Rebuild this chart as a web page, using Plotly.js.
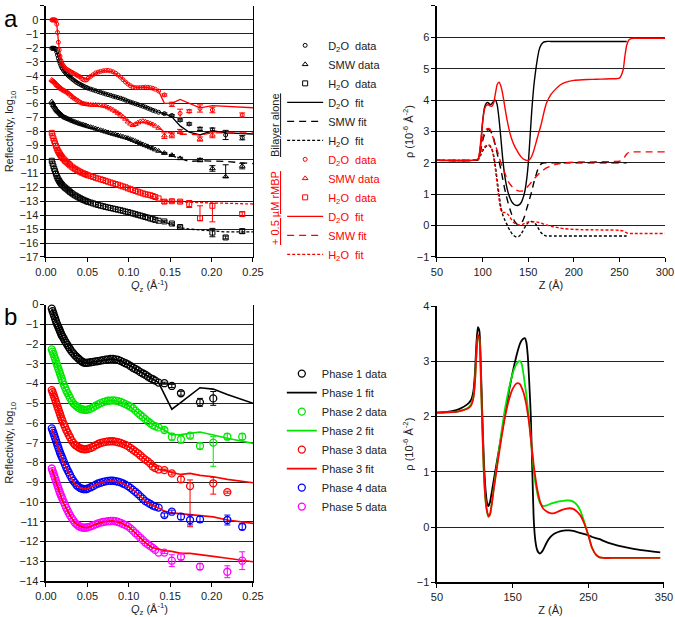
<!DOCTYPE html>
<html><head><meta charset="utf-8">
<script src="https://cdn.plot.ly/plotly-3.0.1.min.js"></script>
<style>html,body{margin:0;padding:0;background:#fff}#chart{width:675px;height:617px}</style>
</head><body><div id="chart"></div>
<script>
// ---------- Panel a (left): reflectivity ----------
const qDense = [0.007,0.008,0.009,0.010,0.011,0.012,0.013,0.014,0.015,0.016,0.017,0.018,0.019,0.020,
  0.0215,0.023,0.0245,0.026,0.0275,0.029,
  0.031,0.033,0.035,0.037,0.039,0.041,0.043,0.045,0.047,0.049,0.051,
  0.054,0.057,0.060,0.063,0.066,0.069,0.072,0.075,0.078,0.081,0.084,0.087,0.090,0.093,0.096,0.099,0.102,0.105,0.108,0.111,0.114,0.117,0.120,0.123,0.126,0.129,0.132,
  0.136];
const qTailA = [0.143,0.152,0.162,0.173,0.186,0.201,0.217,0.237];
const qFitA = [0.007,0.010,0.013,0.016,0.020,0.025,0.030,0.040,0.050,0.060,0.070,0.080,0.090,0.100,0.110,0.120,0.130,0.136,0.143,0.152,0.162,0.173,0.186,0.201,0.217,0.237,0.250];

const bD2O = [-2.03,-2.03,-2.03,-2.04,-2.05,-2.12,-2.3,-2.52,-2.75,-2.93,-3.1,-3.26,-3.4,-3.5,
  -3.64,-3.75,-3.85,-3.93,-4.02,-4.1,
  -4.2,-4.3,-4.39,-4.48,-4.55,-4.61,-4.68,-4.74,-4.8,-4.85,-4.9,
  -4.96,-5.02,-5.08,-5.14,-5.2,-5.25,-5.31,-5.36,-5.41,-5.47,-5.52,-5.57,-5.62,-5.68,-5.75,-5.83,-5.89,-5.95,-6.01,-6.07,-6.13,-6.19,-6.25,-6.33,-6.4,-6.48,-6.54,
  -6.62];
const bSMW = [-5.86,-6.0,-6.12,-6.22,-6.3,-6.39,-6.47,-6.54,-6.6,-6.66,-6.72,-6.78,-6.83,-6.88,
  -6.94,-7.0,-7.04,-7.08,-7.12,-7.16,
  -7.22,-7.27,-7.31,-7.36,-7.4,-7.45,-7.49,-7.52,-7.56,-7.6,-7.64,
  -7.69,-7.74,-7.8,-7.85,-7.91,-7.96,-8.02,-8.07,-8.12,-8.18,-8.23,-8.28,-8.33,-8.38,-8.43,-8.48,-8.55,-8.62,-8.69,-8.77,-8.85,-8.93,-9.0,-9.07,-9.15,-9.22,-9.3,
  -9.4];
const bH2O = [-10.1,-10.3,-10.5,-10.68,-10.85,-11.03,-11.2,-11.33,-11.45,-11.55,-11.65,-11.73,-11.8,-11.86,
  -11.95,-12.03,-12.1,-12.17,-12.25,-12.33,
  -12.42,-12.51,-12.58,-12.65,-12.72,-12.78,-12.85,-12.9,-12.95,-13.0,-13.05,
  -13.1,-13.16,-13.22,-13.27,-13.32,-13.36,-13.41,-13.45,-13.49,-13.53,-13.57,-13.61,-13.65,-13.69,-13.74,-13.78,-13.83,-13.88,-13.93,-13.98,-14.03,-14.08,-14.13,-14.18,-14.24,-14.29,-14.34,
  -14.4];
const mD2O = [0,0,0,0,0,-0.05,-0.3,-0.9,-1.6,-2.15,-2.6,-2.9,-3.1,-3.2,
  -3.33,-3.45,-3.52,-3.58,-3.63,-3.68,
  -3.75,-3.82,-3.88,-3.95,-4.02,-4.08,-4.2,-4.28,-4.32,-4.3,-4.18,
  -4.05,-3.93,-3.8,-3.74,-3.69,-3.65,-3.63,-3.62,-3.66,-3.72,-3.82,-3.95,-4.1,-4.28,-4.45,-4.6,-4.72,-4.82,-4.85,-4.86,-4.85,-4.84,-4.82,-4.83,-4.86,-4.9,-4.97,
  -5.1];
const mSMW = [-4.3,-4.35,-4.4,-4.45,-4.5,-4.57,-4.65,-4.7,-4.75,-4.8,-4.85,-4.9,-4.95,-4.99,
  -5.05,-5.1,-5.15,-5.2,-5.27,-5.35,
  -5.45,-5.55,-5.64,-5.72,-5.8,-5.88,-5.95,-6.0,-6.03,-6.05,-6.07,
  -6.09,-6.1,-6.1,-6.11,-6.13,-6.16,-6.2,-6.28,-6.36,-6.45,-6.56,-6.68,-6.8,-6.95,-7.1,-7.3,-7.45,-7.55,-7.48,-7.37,-7.28,-7.25,-7.3,-7.36,-7.42,-7.5,-7.6,
  -7.75];
const mH2O = [-8.1,-8.3,-8.5,-8.68,-8.85,-9.03,-9.2,-9.33,-9.45,-9.55,-9.65,-9.74,-9.82,-9.9,
  -10.0,-10.1,-10.17,-10.25,-10.33,-10.42,
  -10.52,-10.6,-10.68,-10.75,-10.82,-10.89,-10.95,-11.0,-11.05,-11.1,-11.15,
  -11.2,-11.26,-11.32,-11.38,-11.43,-11.48,-11.54,-11.6,-11.66,-11.72,-11.77,-11.82,-11.88,-11.94,-12.0,-12.08,-12.14,-12.2,-12.26,-12.32,-12.38,-12.44,-12.5,-12.53,-12.57,-12.63,-12.7,
  -12.8];

const bD2OTail = [-6.72,-6.85,-7.18,-7.46,-7.82,-7.87,-8.25,-8.45];
const bD2OErr  = [0.05,0.05,0.08,0.08,0.12,0.12,0.33,0.15];
const bSMWTail = [-9.55,-9.7,-9.93,null,-10.05,-10.65,-11.24,-10.48];
const bSMWErrP = [0.05,0.05,0.08,0,0.12,0.2,0.85,0.2];
const bSMWErrM = [0.05,0.05,0.08,0,0.12,0.2,0.05,0.2];
const bH2OTail = [-14.45,-14.6,-14.85,null,null,-15.25,-15.6,-15.15];
const bH2OErr  = [0.05,0.05,0.08,0,0,0.3,0.1,0.15];
const mD2OTail = [-5.38,-6.05,-6.7,-6.55,-6.35,-6.46,null,-6.82];
const mD2OErr  = [0.08,0.15,0.3,0.1,0.26,0.2,0,0.15];
const mSMWTail = [-8.3,-8.25,-8.0,null,-8.54,-8.25,null,null];
const mSMWErr  = [0.2,0.2,0.15,0,0.15,0.2,0,0];
const mH2OTail = [-13.03,-13.0,-13.03,-13.2,-14.23,-13.33,null,-13.92];
const mH2OErrP = [0.12,0.1,0.1,0.25,0.9,0.17,0,0.15];
const mH2OErrM = [0.12,0.1,0.1,0.25,0.15,1.15,0,0.15];

const bD2OFit = [-2.03,-2.04,-2.3,-2.9,-3.5,-3.88,-4.12,-4.58,-4.88,-5.08,-5.27,-5.45,-5.62,-5.85,-6.05,-6.25,-6.5,-6.62,-6.72,-6.95,-7.6,-8.05,-8.25,-7.95,-8.1,-8.15,-8.18];
const bSMWFit = [-5.86,-6.2,-6.47,-6.65,-6.88,-7.06,-7.2,-7.44,-7.62,-7.8,-7.98,-8.16,-8.33,-8.5,-8.74,-9.0,-9.25,-9.4,-9.58,-9.75,-9.95,-10.15,-10.1,-10.12,-10.15,-10.25,-10.3];
const bH2OFit = [-10.1,-10.7,-11.2,-11.55,-11.92,-12.12,-12.38,-12.75,-13.03,-13.22,-13.38,-13.52,-13.65,-13.8,-13.96,-14.13,-14.3,-14.4,-14.5,-14.7,-14.9,-15.0,-15.05,-15.15,-15.2,-15.2,-15.2];
const mD2OFit = [0,0,-0.3,-2.1,-3.2,-3.55,-3.72,-4.05,-4.25,-3.8,-3.64,-3.7,-4.1,-4.65,-4.85,-4.82,-4.92,-5.1,-5.98,-5.98,-5.7,-5.98,-6.3,-6.15,-6.2,-6.3,-6.3];
const mSMWFit = [-4.3,-4.45,-4.65,-4.8,-5.0,-5.17,-5.4,-5.85,-6.06,-6.1,-6.17,-6.42,-6.8,-7.3,-7.4,-7.3,-7.52,-7.75,-8.0,-8.15,-8.2,-8.2,-8.25,-8.1,-8.1,-8.1,-8.1];
const mH2OFit = [-8.1,-8.7,-9.2,-9.55,-9.97,-10.2,-10.45,-10.85,-11.13,-11.32,-11.5,-11.7,-11.88,-12.1,-12.3,-12.5,-12.65,-12.8,-12.95,-13.0,-13.05,-13.08,-13.1,-13.12,-13.15,-13.18,-13.2];

// ---------- Panel a (right): SLD profiles ----------
const zA = [50,90,95,98,100,102,104,106,108,110,112,114,116,118,120,122,124,126,128,130,132,134,136,138,140,142,144,146,148,150,152,154,156,158,160,162,164,166,168,170,175,180,185,190,200,210,220,230,240,250,254,256,258,260,262,265,270,300];
const rhoBD2O = [2.08,2.08,2.1,2.6, 3.3,3.75,3.9,3.92,3.86,3.88,3.96,4.0,3.85,3.4,2.8,2.15,1.65,1.3,1.05,0.88,0.76,0.69,0.65,0.64,0.66,0.72,0.85,1.05,1.4,1.95,2.8,3.7,4.4,4.9,5.3,5.6,5.75,5.83,5.86,5.87, 5.87,5.87,5.87,5.87,5.87,5.87,5.87,5.87,5.87,5.87, 5.87,5.87,5.87, null,null,null,null,null];
const rhoBSMW = [2.08,2.08,2.1,2.4, 2.7,2.9,3.02,3.06,3.03,2.95,2.8,2.55,2.3,2.05,1.8,1.5,1.2,0.95,0.72,0.52,0.35,0.2,0.1,0.04,0.03,0.06,0.15,0.3,0.5,0.7,0.9,1.1,1.35,1.55,1.75,1.88,1.96,1.99,2.0,2.0, 2.0,2.0,2.0,2.0,2.0,2.0,2.0,2.0,2.0,2.0, 2.0,2.0,2.0, null,null,null,null,null];
const rhoBH2O = [2.08,2.08,2.1,2.25, 2.38,2.47,2.53,2.56,2.54,2.45,2.25,1.9,1.45,1.0,0.6,0.35,0.2,0.08,-0.05,-0.15,-0.25,-0.31,-0.35,-0.36,-0.34,-0.28,-0.18,-0.07,0.03,0.09,0.12,0.13,0.12,0.06,-0.03,-0.13,-0.22,-0.28,-0.31,-0.33, -0.33,-0.33,-0.33,-0.33,-0.33,-0.33,-0.33,-0.33,-0.33,-0.33, -0.33,-0.33,-0.33, null,null,null,null,null];
const rhoMD2O = [2.08,2.08,2.12,2.7, 3.3,3.7,3.83,3.85,3.82,3.8,3.9,4.2,4.5,4.57,4.45,4.2,3.85,3.5,3.2,2.95,2.75,2.6,2.48,2.38,2.28,2.2,2.14,2.1,2.08,2.08,2.12,2.22,2.38,2.58,2.8,3.0,3.2,3.45,3.7,3.9, 4.18,4.35,4.48,4.56,4.63,4.65,4.66,4.67,4.68,4.7, 4.95,5.4,5.75, 5.9,5.95,5.97,5.97,5.97];
const rhoMSMW = [2.08,2.08,2.12,2.55, 2.8,2.98,3.07,3.1,3.08,2.95,2.75,2.55,2.4,2.2,2.0,1.85,1.7,1.55,1.42,1.32,1.25,1.19,1.15,1.12,1.1,1.1,1.11,1.15,1.2,1.26,1.33,1.4,1.47,1.54,1.6,1.66,1.71,1.76,1.8,1.84, 1.9,1.95,1.98,2.0,2.02,2.03,2.03,2.04,2.04,2.05, 2.1,2.2,2.28, 2.33,2.35,2.35,2.35,2.35];
const rhoMH2O = [2.08,2.08,2.1,2.3, 2.42,2.5,2.55,2.57,2.55,2.45,2.2,1.8,1.3,0.85,0.5,0.42,0.42,0.4,0.35,0.27,0.18,0.1,0.06,0.03,0.02,0.02,0.04,0.07,0.1,0.12,0.12,0.12,0.12,0.11,0.11,0.1,0.08,0.06,0.04,0.02, -0.02,-0.05,-0.08,-0.1,-0.12,-0.13,-0.13,-0.14,-0.14,-0.15, -0.17,-0.2,-0.23, -0.25,-0.25,-0.25,-0.25,-0.25];

// ---------- Panel b (left): reflectivity by phase ----------
const qTailB = [0.143,0.152,0.163,0.174,0.186,0.202,0.219,0.237];
const qFitB = [0.007,0.010,0.013,0.016,0.020,0.025,0.030,0.035,0.040,0.045,0.050,0.060,0.070,0.080,0.090,0.100,0.110,0.120,0.128,0.136,0.143,0.152,0.163,0.174,0.186,0.202,0.219,0.250];
const p1 = [-0.2,-0.33,-0.45,-0.58,-0.7,-0.83,-0.95,-1.05,-1.15,-1.25,-1.35,-1.45,-1.55,-1.62,
  -1.73,-1.85,-1.95,-2.05,-2.15,-2.25,
  -2.37,-2.47,-2.57,-2.65,-2.73,-2.8,-2.87,-2.92,-2.95,-2.95,-2.94,
  -2.92,-2.9,-2.88,-2.86,-2.84,-2.81,-2.79,-2.77,-2.75,-2.75,-2.77,-2.8,-2.85,-2.91,-2.97,-3.03,-3.11,-3.2,-3.26,-3.33,-3.42,-3.49,-3.55,-3.64,-3.72,-3.78,-3.85,
  -3.95];
const p2 = [-2.27,-2.38,-2.5,-2.63,-2.75,-2.88,-3.0,-3.13,-3.25,-3.38,-3.5,-3.63,-3.75,-3.88,
  -4.05,-4.2,-4.35,-4.48,-4.6,-4.72,
  -4.88,-5.0,-5.08,-5.15,-5.22,-5.27,-5.3,-5.32,-5.33,-5.33,-5.31,
  -5.27,-5.2,-5.12,-5.05,-4.99,-4.94,-4.9,-4.87,-4.86,-4.85,-4.86,-4.89,-4.93,-4.98,-5.04,-5.1,-5.17,-5.25,-5.37,-5.48,-5.59,-5.69,-5.8,-5.91,-6.01,-6.1,-6.16,
  -6.22];
const p3 = [-4.33,-4.44,-4.55,-4.68,-4.8,-4.93,-5.05,-5.18,-5.3,-5.43,-5.55,-5.68,-5.8,-5.9,
  -6.05,-6.2,-6.35,-6.47,-6.6,-6.72,
  -6.88,-7.0,-7.1,-7.15,-7.22,-7.27,-7.3,-7.32,-7.33,-7.32,-7.3,
  -7.26,-7.2,-7.12,-7.06,-7.01,-6.98,-6.95,-6.93,-6.92,-6.92,-6.94,-6.97,-7.0,-7.05,-7.1,-7.17,-7.26,-7.35,-7.44,-7.53,-7.64,-7.75,-7.85,-7.94,-8.05,-8.2,-8.28,
  -8.35];
const p4 = [-6.27,-6.38,-6.5,-6.63,-6.75,-6.88,-7.0,-7.13,-7.25,-7.38,-7.5,-7.6,-7.7,-7.8,
  -7.95,-8.1,-8.25,-8.38,-8.5,-8.63,
  -8.78,-8.92,-9.03,-9.15,-9.22,-9.28,-9.32,-9.34,-9.35,-9.34,-9.31,
  -9.25,-9.19,-9.12,-9.06,-9.02,-8.98,-8.95,-8.93,-8.92,-8.92,-8.94,-8.97,-9.0,-9.06,-9.12,-9.19,-9.28,-9.38,-9.48,-9.59,-9.71,-9.83,-9.95,-10.03,-10.1,-10.18,-10.23,
  -10.28];
const p5 = [-8.3,-8.43,-8.55,-8.68,-8.8,-8.93,-9.05,-9.18,-9.3,-9.43,-9.55,-9.65,-9.75,-9.85,
  -10.0,-10.15,-10.3,-10.42,-10.55,-10.67,
  -10.8,-10.93,-11.05,-11.13,-11.2,-11.25,-11.28,-11.3,-11.3,-11.29,-11.27,
  -11.23,-11.18,-11.13,-11.08,-11.04,-11.01,-10.99,-10.97,-10.96,-10.95,-10.97,-11.01,-11.05,-11.11,-11.17,-11.23,-11.33,-11.45,-11.57,-11.69,-11.81,-11.93,-12.05,-12.14,-12.23,-12.32,-12.42,
  -12.56];

const p1Tail = [-3.98,-4.12,-4.49,null,-4.95,-4.75,null,null];
const p1Err  = [0.05,0.08,0.1,0,0.2,0.35,0,0];
const p2Tail = [-6.35,-6.69,-6.82,-6.64,-7.16,-6.99,-6.69,-6.69];
const p2ErrP = [0.1,0.17,0.2,0.12,0.15,0.3,0.15,0.15];
const p2ErrM = [0.1,0.17,0.2,0.12,0.15,1.2,0.15,0.15];
const p3Tail = [-8.38,-8.55,-8.85,-9.19,null,-9.05,-9.5,null];
const p3ErrP = [0.05,0.08,0.15,0.31,0,0.3,0.05,0];
const p3ErrM = [0.05,0.08,0.15,2.06,0,0.55,0.05,0];
const p4Tail = [-10.66,-10.49,-10.74,-10.91,-10.88,null,-10.91,-11.25];
const p4Err  = [0.1,0.08,0.15,0.25,0.15,0,0.25,0.15];
const p5Tail = [-12.56,-12.97,-12.77,null,-13.27,null,-13.53,-12.97];
const p5Err  = [0.05,0.3,0.15,0,0.15,0,0.3,0.45];

const p1Fit = [-0.2,-0.55,-0.95,-1.3,-1.7,-2.0,-2.3,-2.6,-2.8,-2.92,-2.95,-2.88,-2.8,-2.75,-2.85,-3.05,-3.3,-3.55,-3.75,-3.95,-4.55,-5.3,-4.95,-4.6,-4.21,-4.28,-4.55,-5.0];
const p2Fit = [-2.27,-2.6,-3.0,-3.4,-4.0,-4.4,-4.8,-5.1,-5.25,-5.32,-5.33,-5.12,-4.92,-4.85,-4.93,-5.12,-5.45,-5.8,-6.05,-6.22,-6.35,-6.6,-6.58,-6.52,-6.45,-6.6,-6.77,-7.03];
const p3Fit = [-4.33,-4.65,-5.05,-5.45,-6.0,-6.4,-6.8,-7.1,-7.25,-7.32,-7.32,-7.12,-6.97,-6.92,-7.0,-7.2,-7.5,-7.85,-8.1,-8.35,-8.38,-8.5,-8.6,-8.55,-8.65,-8.72,-8.85,-9.02];
const p4Fit = [-6.27,-6.6,-7.0,-7.4,-7.9,-8.3,-8.75,-9.1,-9.25,-9.33,-9.33,-9.12,-8.97,-8.92,-9.0,-9.22,-9.55,-9.95,-10.15,-10.3,-10.45,-10.55,-10.6,-10.63,-10.69,-10.75,-10.91,-11.08];
const p5Fit = [-8.3,-8.65,-9.05,-9.45,-9.95,-10.35,-10.75,-11.05,-11.2,-11.28,-11.3,-11.13,-11.0,-10.95,-11.05,-11.25,-11.65,-12.05,-12.3,-12.4,-12.45,-12.5,-12.6,-12.6,-12.68,-12.75,-12.85,-13.02];

// ---------- Panel b (right): SLD profiles ----------
const zB = [50,70,80,90,95,98,100,102,104,106,108,110,112,114,116,118,120,122,125,130,135,140,145,150,155,158,160,162,164,166,168,170,172,174,176,178,180,182,184,186,188,190,195,200,205,210,215,220,225,230,235,240,245,250,255,260,265,270,280,300,320,345];
const rhoP1 = [2.07,2.1,2.14,2.22,2.3,2.45, 2.75,3.3,3.62,3.55,2.9,2.0,1.2,0.7,0.45,0.38,0.45,0.6, 0.85,1.25,1.65,2.05,2.45,2.8,3.1, 3.25,3.33,3.38,3.41,3.42,3.35,3.1,2.6,2.0,1.0,0.1,-0.25,-0.4,-0.46,-0.48,-0.46,-0.42, -0.28,-0.18,-0.12,-0.09,-0.07,-0.06,-0.06,-0.07,-0.09,-0.11,-0.13,-0.15,-0.18,-0.2,-0.22,-0.25, -0.3,-0.37,-0.42,-0.46];
const rhoP2 = [2.07,2.08,2.1,2.15,2.22,2.35, 2.6,3.1,3.45,3.4,2.7,1.75,0.95,0.5,0.28,0.18,0.22,0.38, 0.7,1.2,1.7,2.15,2.5,2.78,2.95, 3.0,3.0,2.95,2.8,2.6,2.4,2.15,1.9,1.6,1.3,1.0,0.8,0.65,0.52,0.44,0.4,0.38, 0.39,0.42,0.44,0.46,0.47,0.48,0.48,0.46,0.4,0.28,0.08,-0.15,-0.38,-0.5,-0.55,-0.56, -0.56,-0.56,-0.56,-0.56];
const rhoP3 = [2.07,2.08,2.1,2.14,2.2,2.33, 2.58,3.1,3.48,3.42,2.72,1.78,0.98,0.52,0.3,0.2,0.23,0.38, 0.68,1.15,1.6,2.0,2.3,2.5,2.6, 2.6,2.58,2.52,2.45,2.35,2.22,2.05,1.85,1.6,1.35,1.1,0.9,0.72,0.58,0.47,0.39,0.34, 0.28,0.25,0.25,0.28,0.31,0.33,0.34,0.33,0.28,0.2,0.05,-0.15,-0.38,-0.5,-0.55,-0.56, -0.56,-0.56,-0.56,-0.56];

// ---------- build ----------
const FONT = 'Liberation Sans, Arial, sans-serif';
const RED = '#ff0000';
const traces = [];

function dataTr(x, y, sym, color, name, xa, ya, opts) {
  opts = opts || {};
  const t = {
    type: 'scatter', mode: 'markers', x: x, y: y, name: name,
    xaxis: xa, yaxis: ya, cliponaxis: false,
    marker: {symbol: sym, size: opts.size || 5, color: color, line: {color: color, width: opts.lw || 1}},
    showlegend: opts.showlegend !== false,
    legend: opts.legend || 'legend', hoverinfo: 'skip'
  };
  if (opts.err) {
    t.error_y = {type: 'data', array: opts.err, color: color, thickness: 1, width: 3, visible: true};
    if (opts.errM) { t.error_y.symmetric = false; t.error_y.arrayminus = opts.errM; }
  }
  return t;
}
function lineTr(x, y, color, dash, name, xa, ya, opts) {
  opts = opts || {};
  return {
    type: 'scatter', mode: 'lines', x: x, y: y, name: name, xaxis: xa, yaxis: ya,
    line: {color: color, width: opts.width || 1.3, dash: dash, shape: opts.shape || 'linear', smoothing: opts.smoothing || 0},
    showlegend: opts.showlegend !== false, legend: opts.legend || 'legend', hoverinfo: 'skip'
  };
}
const redTxt = s => '<span style="color:#ff0000">' + s + '</span>';
const LD = '7px,5px', SD = '3px,2px';

traces.push(dataTr(qDense, bD2O, 'circle-open', '#000', 'D<sub>2</sub>O  data', 'x', 'y', {size: 4}));
traces.push(dataTr(qDense, bSMW, 'triangle-up-open', '#000', 'SMW data', 'x', 'y', {size: 5}));
traces.push(dataTr(qDense, bH2O, 'square-open', '#000', 'H<sub>2</sub>O  data', 'x', 'y', {size: 5}));
traces.push(lineTr(qFitA, bD2OFit, '#000', 'solid', 'D<sub>2</sub>O  fit', 'x', 'y'));
traces.push(lineTr(qFitA, bSMWFit, '#000', LD, 'SMW fit', 'x', 'y'));
traces.push(lineTr(qFitA, bH2OFit, '#000', SD, 'H<sub>2</sub>O  fit', 'x', 'y'));
traces.push(dataTr(qDense, mD2O, 'circle-open', RED, redTxt('D<sub>2</sub>O  data'), 'x', 'y', {size: 4}));
traces.push(dataTr(qDense, mSMW, 'triangle-up-open', RED, redTxt('SMW data'), 'x', 'y', {size: 5}));
traces.push(dataTr(qDense, mH2O, 'square-open', RED, redTxt('H<sub>2</sub>O  data'), 'x', 'y', {size: 5}));
traces.push(lineTr(qFitA, mD2OFit, RED, 'solid', redTxt('D<sub>2</sub>O  fit'), 'x', 'y'));
traces.push(lineTr(qFitA, mSMWFit, RED, LD, redTxt('SMW fit'), 'x', 'y'));
traces.push(lineTr(qFitA, mH2OFit, RED, SD, redTxt('H<sub>2</sub>O  fit'), 'x', 'y'));
traces.push(dataTr(qTailA, bD2OTail, 'circle-open', '#000', '', 'x', 'y', {size: 4, showlegend: false, err: bD2OErr}));
traces.push(dataTr(qTailA, bSMWTail, 'triangle-up-open', '#000', '', 'x', 'y', {size: 5, showlegend: false, err: bSMWErrP, errM: bSMWErrM}));
traces.push(dataTr(qTailA, bH2OTail, 'square-open', '#000', '', 'x', 'y', {size: 5, showlegend: false, err: bH2OErr}));
traces.push(dataTr(qTailA, mD2OTail, 'circle-open', RED, '', 'x', 'y', {size: 4, showlegend: false, err: mD2OErr}));
traces.push(dataTr(qTailA, mSMWTail, 'triangle-up-open', RED, '', 'x', 'y', {size: 5, showlegend: false, err: mSMWErr}));
traces.push(dataTr(qTailA, mH2OTail, 'square-open', RED, '', 'x', 'y', {size: 5, showlegend: false, err: mH2OErrP, errM: mH2OErrM}));

const sp = {showlegend: false, shape: 'spline', smoothing: 0.6, width: 1.4};
traces.push(lineTr(zA, rhoBD2O, '#000', 'solid', '', 'x2', 'y2', sp));
traces.push(lineTr(zA, rhoBSMW, '#000', LD, '', 'x2', 'y2', sp));
traces.push(lineTr(zA, rhoBH2O, '#000', SD, '', 'x2', 'y2', sp));
traces.push(lineTr(zA, rhoMD2O, RED, 'solid', '', 'x2', 'y2', sp));
traces.push(lineTr(zA, rhoMSMW, RED, LD, '', 'x2', 'y2', sp));
traces.push(lineTr(zA, rhoMH2O, RED, SD, '', 'x2', 'y2', sp));

const L2 = {legend: 'legend2', size: 7, lw: 1.3};
const GREEN = '#00e600', BLUE = '#0000ff', MAG = '#ff00ff';
traces.push(dataTr(qDense, p1, 'circle-open', '#000', 'Phase 1 data', 'x3', 'y3', L2));
traces.push(lineTr(qFitB, p1Fit, '#000', 'solid', 'Phase 1 fit', 'x3', 'y3', {legend: 'legend2', width: 1.6}));
traces.push(dataTr(qDense, p2, 'circle-open', GREEN, 'Phase 2 data', 'x3', 'y3', L2));
traces.push(lineTr(qFitB, p2Fit, GREEN, 'solid', 'Phase 2 fit', 'x3', 'y3', {legend: 'legend2', width: 1.6}));
traces.push(dataTr(qDense, p3, 'circle-open', RED, 'Phase 3 data', 'x3', 'y3', L2));
traces.push(lineTr(qFitB, p3Fit, RED, 'solid', 'Phase 3 fit', 'x3', 'y3', {legend: 'legend2', width: 1.6}));
traces.push(dataTr(qDense, p4, 'circle-open', BLUE, 'Phase 4 data', 'x3', 'y3', L2));
traces.push(dataTr(qDense, p5, 'circle-open', MAG, 'Phase 5 data', 'x3', 'y3', L2));
traces.push(lineTr(qFitB, p4Fit, RED, 'solid', '', 'x3', 'y3', {showlegend: false, width: 1.6}));
traces.push(lineTr(qFitB, p5Fit, RED, 'solid', '', 'x3', 'y3', {showlegend: false, width: 1.6}));
const T2 = {size: 7, lw: 1.3, showlegend: false};
traces.push(dataTr(qTailB, p1Tail, 'circle-open', '#000', '', 'x3', 'y3', Object.assign({err: p1Err}, T2)));
traces.push(dataTr(qTailB, p2Tail, 'circle-open', GREEN, '', 'x3', 'y3', Object.assign({err: p2ErrP, errM: p2ErrM}, T2)));
traces.push(dataTr(qTailB, p3Tail, 'circle-open', RED, '', 'x3', 'y3', Object.assign({err: p3ErrP, errM: p3ErrM}, T2)));
traces.push(dataTr(qTailB, p4Tail, 'circle-open', BLUE, '', 'x3', 'y3', Object.assign({err: p4Err}, T2)));
traces.push(dataTr(qTailB, p5Tail, 'circle-open', MAG, '', 'x3', 'y3', Object.assign({err: p5Err}, T2)));

const sp2 = {showlegend: false, shape: 'spline', smoothing: 0.6, width: 1.8};
traces.push(lineTr(zB, rhoP1, '#000', 'solid', '', 'x4', 'y4', sp2));
traces.push(lineTr(zB, rhoP2, GREEN, 'solid', '', 'x4', 'y4', sp2));
traces.push(lineTr(zB, rhoP3, RED, 'solid', '', 'x4', 'y4', sp2));

const tickFont = {family: FONT, size: 11, color: '#222'};
const titleFont = {family: FONT, size: 11, color: '#222'};
function xAx(domain, anchor, range, dtick, tick0, fmt, title) {
  return {domain: domain, anchor: anchor, range: range, dtick: dtick, tick0: tick0, tickformat: fmt,
    showline: true, linecolor: '#000', linewidth: 1.5, ticks: 'outside', ticklen: 4, tickcolor: '#000', tickwidth: 1,
    showgrid: false, zeroline: false, tickfont: tickFont, automargin: false,
    title: {text: title, font: titleFont, standoff: 4}};
}
function yAx(domain, anchor, range, title, mirror, standoff) {
  return {domain: domain, anchor: anchor, range: range, dtick: 1, tick0: 0,
    showline: true, linecolor: '#000', linewidth: 1.5, mirror: mirror, ticks: 'outside', ticklen: 4, tickcolor: '#000', tickwidth: 1,
    showgrid: true, gridcolor: '#222', gridwidth: 1, zeroline: false, tickfont: tickFont, automargin: false,
    title: {text: title, font: titleFont, standoff: standoff}};
}
const QT = '<i>Q</i><sub>z</sub> (Å<sup>-1</sup>)';
const RT = 'ρ (10<sup>-6</sup> Å<sup>-2</sup>)';
const layout = {
  width: 675, height: 617, margin: {l: 0, r: 0, t: 0, b: 0},
  paper_bgcolor: '#fff', plot_bgcolor: 'rgba(0,0,0,0)',
  font: {family: FONT, size: 11, color: '#222'},
  xaxis: xAx([0.0681, 0.3748], 'y', [0, 0.25], 0.05, 0, '.2f', QT),
  yaxis: yAx([0.5835, 0.9903], 'x', [-17, 1], 'Reflectivity, log<sub>10</sub>', true, 3),
  xaxis2: xAx([0.6474, 0.9852], 'y2', [50, 300], 50, 50, '', 'Z (Å)'),
  yaxis2: yAx([0.5835, 0.9903], 'x2', [-1, 7], RT, false, 1),
  xaxis3: xAx([0.0681, 0.3748], 'y3', [0, 0.25], 0.05, 0, '.2f', QT),
  yaxis3: yAx([0.0583, 0.5063], 'x3', [-14, 0], 'Reflectivity, log<sub>10</sub>', true, 3),
  xaxis4: xAx([0.6474, 0.9837], 'y4', [50, 350], 100, 50, '', 'Z (Å)'),
  yaxis4: yAx([0.0563, 0.5039], 'x4', [-1, 4], RT, false, 1),
  legend: {x: 0.418, y: 0.950, xanchor: 'left', yanchor: 'top', bgcolor: 'rgba(0,0,0,0)',
    font: {family: FONT, size: 11, color: '#222'}, traceorder: 'normal', itemwidth: 36, tracegroupgap: 0},
  legend2: {x: 0.4175, y: 0.418, xanchor: 'left', yanchor: 'top', bgcolor: 'rgba(0,0,0,0)',
    font: {family: FONT, size: 11, color: '#222'}, traceorder: 'normal', itemwidth: 30, tracegroupgap: 0},
  annotations: [
    {text: 'a', x: 0.003, y: 1 - 18/617, xref: 'paper', yref: 'paper', xanchor: 'left', yanchor: 'middle', showarrow: false, font: {family: FONT, size: 24, color: '#000'}},
    {text: 'b', x: 0.003, y: 1 - 316/617, xref: 'paper', yref: 'paper', xanchor: 'left', yanchor: 'middle', showarrow: false, font: {family: FONT, size: 24, color: '#000'}},
    {text: '<u>Bilayer alone</u>', x: 275/675, y: 1 - 91/617, xref: 'paper', yref: 'paper', textangle: -90, showarrow: false, font: {family: FONT, size: 11, color: '#222'}},
    {text: '<u>+ 0.5 µM rMBP</u>', x: 275/675, y: 1 - 208/617, xref: 'paper', yref: 'paper', textangle: -90, showarrow: false, font: {family: FONT, size: 11, color: RED}}
  ]
};
Plotly.newPlot('chart', traces, layout, {displayModeBar: false, staticPlot: true});
</script></body></html>
